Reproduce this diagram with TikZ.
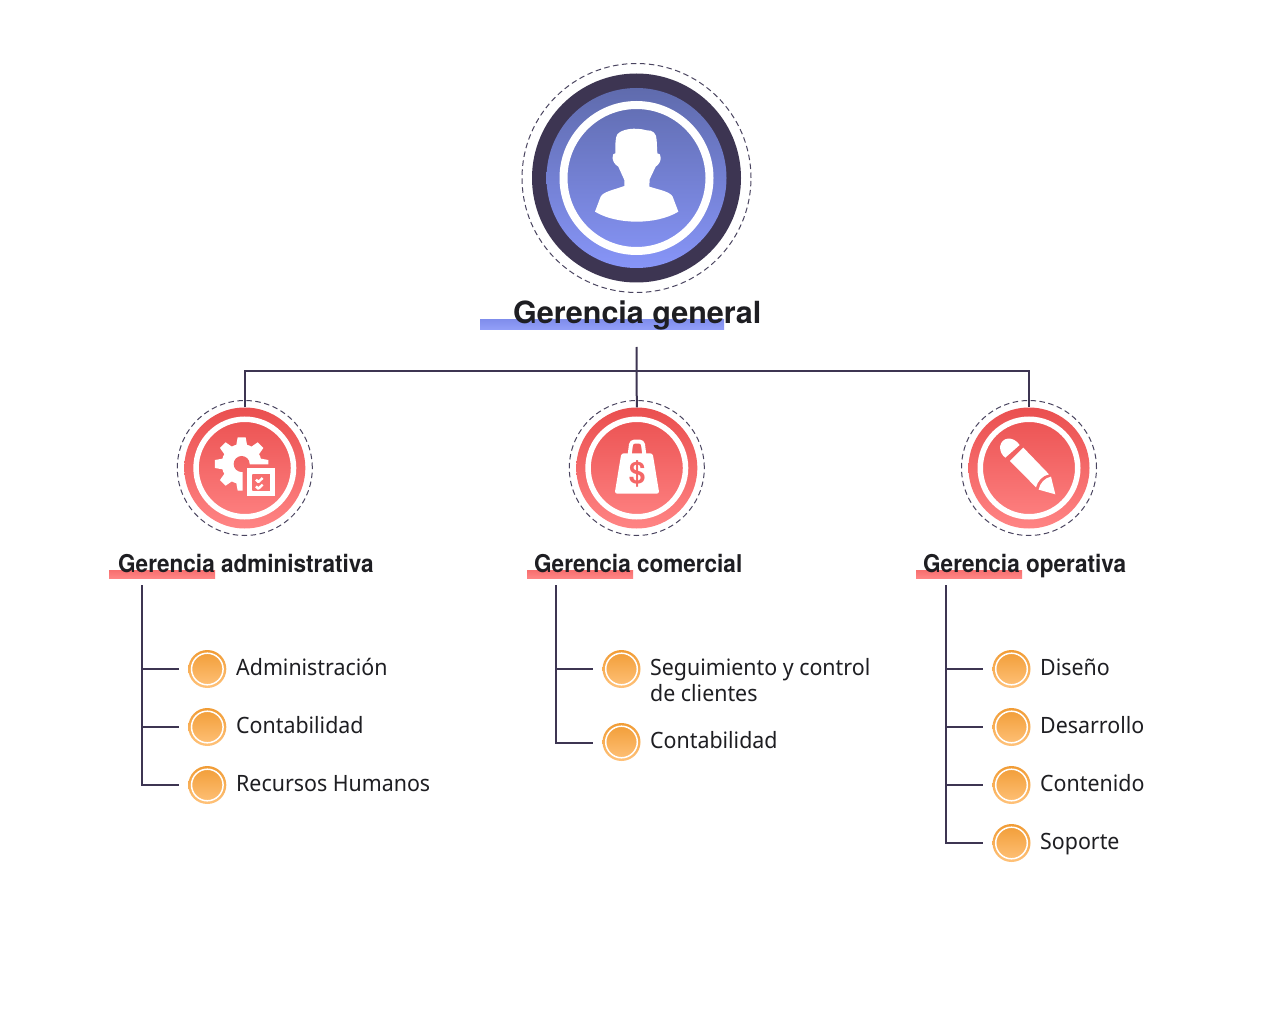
\documentclass[tikz,border=0pt]{standalone}
\usepackage{fontspec}
\setmainfont[FakeStretch=.95]{Noto Sans}
\newfontfamily\headfont{TeX Gyre Heros}
\newfontfamily\headsmall[FakeStretch=.92]{TeX Gyre Heros}
\definecolor{ink}{HTML}{3D3552}
\definecolor{dashc}{HTML}{4A4560}
\definecolor{blueT}{HTML}{5F6BAD}
\definecolor{blueB}{HTML}{8795F8}
\definecolor{redT}{HTML}{EA4F4F}
\definecolor{redB}{HTML}{FF8484}
\definecolor{oraT}{HTML}{F19C35}
\definecolor{oraB}{HTML}{FFC27A}
\definecolor{txt}{HTML}{1E1E22}
\tikzset{
  conn/.style={draw=ink,line width=2pt},
  dashring/.style={draw=dashc,line width=1pt,dash pattern=on 5.5pt off 3.5pt},
  bigdisc/.style={circle,inner sep=0pt,minimum size=180pt,top color=blueT,bottom color=blueB},
  reddisc/.style={circle,inner sep=0pt,minimum size=121pt,top color=redT,bottom color=redB},
  oradisc/.style={circle,inner sep=0pt,minimum size=38pt,top color=oraT,bottom color=oraB},
  item/.style={anchor=base west,inner sep=0pt,text=txt,font=\fontsize{22.5}{26}\selectfont},
  head/.style={anchor=base west,inner sep=0pt,text=txt,font=\headsmall\fontsize{24.5}{28}\selectfont\bfseries},
  icon/.style={x=.33333pt,y=-.33333pt},
}
% bullet: #1 name, #2 x, #3 y
\newcommand{\itemdot}[3]{%
  \node[oradisc] (#1) at (#2,#3) {};
  \draw[white,line width=1.5pt] (#1.center) circle[radius=15.8pt];
}
% red disc with rings: #1 name, #2 x
\newcommand{\reddiscat}[2]{%
  \node[reddisc] (#1) at (#2,468) {};
  \draw[white,line width=5.5pt] (#1.center) circle[radius=48.75pt];
  \draw[dashring] (#1.center) circle[radius=67.5pt];
}
\begin{document}
\begin{tikzpicture}[x=1pt,y=-1pt]
\useasboundingbox (0,0) rectangle (1280,1024);
\fill[white] (0,0) rectangle (1280,1024);

% --- top disc
\fill[ink] (636.5,178) circle[radius=104.5pt];
\node[bigdisc] (top) at (636.5,178) {};
\draw[white,line width=8pt] (top.center) circle[radius=73pt];
\draw[dashring] (top.center) circle[radius=114.5pt];
% person
\begin{scope}[icon,shift={(1530,165)}]
\fill[white] (316,295) .. controls (316,265) and (316,248) .. (322,238)
  .. controls (335,222) and (375,216) .. (410,226)
  .. controls (428,224) and (440,236) .. (440,255) -- (442,295)
  .. controls (455,292) and (458,322) .. (437,335)
  -- (419,373) -- (418,395)
  .. controls (450,405) and (480,410) .. (488,425) -- (505,470)
  .. controls (440,510) and (320,510) .. (255,470)
  -- (272,425) .. controls (280,410) and (310,405) .. (343,393)
  -- (343,375) -- (325,335)
  .. controls (302,322) and (305,292) .. (316,295) -- cycle;
\end{scope}

% --- title
\shade[top color=blueB!85!blueT,bottom color=blueB!90!white] (480,320) rectangle (724,330);
\node[head,font=\headfont\fontsize{30.5}{34}\selectfont\bfseries] (gg) at (513,323.5) {Gerencia general};

% --- second level discs
\reddiscat{adm}{244.8}
\reddiscat{com}{636.8}
\reddiscat{ope}{1029}

% connectors, level 1
\coordinate (trunkTop) at (636.5,347);
\coordinate (busJ) at (636.5,370.5);
\draw[conn] (trunkTop) -- (com.north);
\draw[conn] (adm.north) |- (busJ) -| (ope.north);

% gear
\begin{scope}[icon,shift={(510,1185)}]
\coordinate (g) at (215,207);
\fill[white] (g) circle[radius=60*.33333pt];
\foreach \a in {0,45,...,315}{
  \fill[white,shift={(g)},rotate=\a]
    (52,-17) -- (80,-12) -- (80,12) -- (52,17) -- cycle;
}
\begin{scope}
  \clip (g) circle[radius=24*.33333pt] (218,208) rectangle (322,310);
  \shade[top color=redT,bottom color=redB] (adm.center) circle[radius=60.5pt];
\end{scope}
\fill[white] (232,220) rectangle (315,303);
\begin{scope}
  \clip (247,238) rectangle (300,288);
  \shade[top color=redT,bottom color=redB] (adm.center) circle[radius=60.5pt];
\end{scope}
\draw[white,line width=2.4pt,line join=round] (258,254) -- (265,261) -- (278,249);
\draw[white,line width=2.4pt,line join=round] (258,274) -- (265,281) -- (278,269);
\end{scope}

% bag
\begin{scope}[icon,shift={(1686,1185)}]
\draw[white,line width=4pt,rounded corners=3pt] (203,180) -- (208,140) -- (242,140) -- (247,180);
\fill[white,rounded corners=2.5pt] (178,175) -- (272,175) -- (292,296) -- (158,296) -- cycle;
\node[inner sep=0pt,text=redT!55!redB,font=\headfont\fontsize{30}{30}\selectfont\bfseries] (dollar) at (226,236) {\$};
\end{scope}

% pencil
\begin{scope}[icon,shift={(2865,1185)}]
\fill[white] (194,150) .. controls (175,122) and (140,125) .. (135,155)
  .. controls (135,170) and (142,182) .. (151,188) -- cycle;
\fill[white] (205,158) -- (282,238) .. controls (262,242) and (248,258) .. (243,277) -- (165,198) -- cycle;
\fill[white] (301,298) -- (251,284) .. controls (254,265) and (270,248) .. (288,245) -- cycle;
\end{scope}

% --- second-level titles
\tikzset{redbar/.style={top color=redB!60!redT,bottom color=redB}}
\shade[redbar] (109,570) rectangle (215,578);
\shade[redbar] (527,570) rectangle (633,578);
\shade[redbar] (916,570) rectangle (1022,578);
\node[head] (tadm) at (118,572) {Gerencia administrativa};
\node[head] (tcom) at (534,572) {Gerencia comercial};
\node[head] (tope) at (923,572) {Gerencia operativa};

% --- left column
\itemdot{a1}{207.3}{669}\itemdot{a2}{207.3}{727}\itemdot{a3}{207.3}{785}
\node[item] (la1) at (236,675) {Administración};
\node[item] (la2) at (236,733) {Contabilidad};
\node[item] (la3) at (236,791) {Recursos Humanos};
\coordinate (atop) at (142,585);
\coordinate (ae1) at (179,669);\coordinate (ae2) at (179,727);\coordinate (ae3) at (179,785);
\draw[conn] (atop) |- (ae3);
\draw[conn] (142,669) -- (ae1);
\draw[conn] (142,727) -- (ae2);

% --- middle column
\itemdot{c1}{621.5}{669}\itemdot{c2}{621.5}{742}
\node[item] (lc1) at (650,675) {Seguimiento y control};
\node[item] (lc1b) at (650,701) {de clientes};
\node[item] (lc2) at (650,748) {Contabilidad};
\coordinate (ctop) at (556,585);
\coordinate (ce1) at (593,669);\coordinate (ce2) at (593,743);
\draw[conn] (ctop) |- (ce2);
\draw[conn] (556,669) -- (ce1);

% --- right column
\itemdot{o1}{1011.5}{669}\itemdot{o2}{1011.5}{727}\itemdot{o3}{1011.5}{785}\itemdot{o4}{1011.5}{843}
\node[item] (lo1) at (1040,675) {Diseño};
\node[item] (lo2) at (1040,733) {Desarrollo};
\node[item] (lo3) at (1040,791) {Contenido};
\node[item] (lo4) at (1040,849) {Soporte};
\coordinate (otop) at (946,585);
\coordinate (oe1) at (983,669);\coordinate (oe2) at (983,727);\coordinate (oe3) at (983,785);\coordinate (oe4) at (983,843);
\draw[conn] (otop) |- (oe4);
\draw[conn] (946,669) -- (oe1);
\draw[conn] (946,727) -- (oe2);
\draw[conn] (946,785) -- (oe3);
\end{tikzpicture}
\end{document}
